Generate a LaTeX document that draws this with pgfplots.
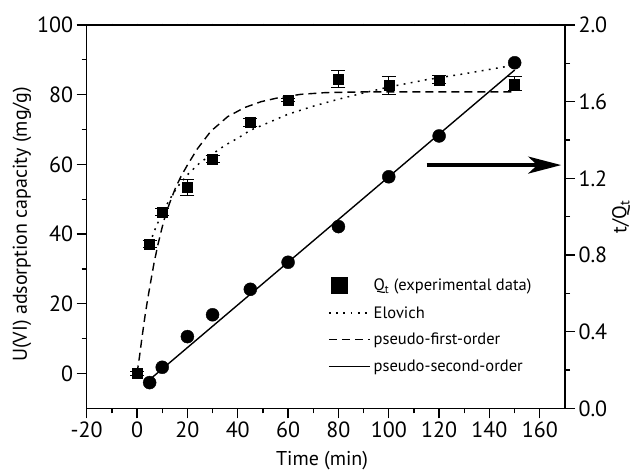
\documentclass[border=0pt]{standalone}
\usepackage{fontspec}
\setmainfont{PT Sans}
\usepackage{pgfplots}
\pgfplotsset{compat=1.18}
\usetikzlibrary{arrows.meta}

\pgfplotstableread{
t q e
0 0 0.6
5 37.1 1.0
10 46.3 1.0
20 53.4 2.3
30 61.5 1.0
45 72.1 1.2
60 78.5 0.5
80 84.4 2.4
100 82.6 2.5
120 84.3 1.2
150 83.1 2.0
}\qtdata

\pgfplotstableread{
t r
5 0.134
10 0.214
20 0.374
30 0.488
45 0.621
60 0.762
80 0.948
100 1.208
120 1.421
150 1.803
}\ratiodata

\begin{document}
\begin{tikzpicture}
\pgfplotsset{
  common/.style={
    scale only axis, width=478.3pt, height=383.3pt,
    xmin=-20, xmax=170,
    axis line style={line width=1.3pt},
    every tick/.style={line width=1.3pt, black},
    major tick length=10pt, minor tick length=5pt,
    tick align=outside,
    tick label style={font=\fontsize{22}{26}\selectfont},
    label style={font=\fontsize{20}{24}\selectfont},
    /pgf/number format/assume math mode=true,
    clip=false,
  },
  dottedline/.style={line width=1.5pt, dash pattern=on 1.8pt off 5.4pt},
  dashedline/.style={line width=1.4pt, dash pattern=on 8pt off 5pt},
  longline/.style={legend image code/.code={\draw[##1] (0pt,0pt) -- (41pt,0pt);}},
}
% left axis
\begin{axis}[common,
  ymin=-10, ymax=100,
  axis y line*=left, axis x line*=bottom,
  xtick={-20,0,...,160}, minor x tick num=1,
  ytick={0,20,...,100}, minor y tick num=1,
  xlabel={Time (min)}, ylabel={U(VI) adsorption capacity (mg/g)},
  xlabel style={at={(axis description cs:0.492,-0.1375)}, anchor=center},
  ylabel style={at={(axis description cs:-0.1353,0.48)}, anchor=center},
]
\addplot[dashedline] coordinates {
(0,0) (1,5) (2,10.5) (3.3,17.2) (4.5,22.5) (5.3,25.8) (6.7,31.5) (8.3,37)
(10,42) (11.3,45.5) (13,49) (15.3,53.3) (17.5,56.6) (20,59.8) (24,64.5)
(29.3,69.5) (36,73.7) (42.7,76.3) (49.3,78) (56,79.1) (65,80.1) (75,80.6)
(90,80.8) (110,80.8) (150,80.8)};
\addplot[dottedline] coordinates {
(5,37.3) (7.5,42) (10,46) (13,50) (16,53.5) (20,57) (25,60.5) (30,63)
(35,65.5) (40,67.5) (45,69.8) (50,71.3) (60,74.4) (70,76.7) (80,78.7)
(90,80.5) (100,82.2) (115,84.3) (130,86) (150,88.5)};
\addplot[only marks, mark=square*, mark size=5pt, black,
  error bars/.cd, y dir=both, y explicit,
  error bar style={line width=1pt, black},
  error mark options={rotate=90, mark size=7pt, line width=1pt, black}]
  table[x=t, y=q, y error=e] {\qtdata};
\draw[line width=3.6pt, -{Stealth[length=33pt, width=17pt, inset=9pt]}]
  (axis cs:115,59.8) -- (axis cs:168.5,59.8);
\end{axis}
% top ticks
\begin{axis}[common,
  ymin=0, ymax=1,
  axis x line*=top, axis y line=none,
  xtick={-10,0,...,160}, xticklabels={},
  major tick length=2.5pt, tick align=center,
]
\addplot[draw=none] coordinates {(0,0)};
\end{axis}
% right axis
\begin{axis}[common,
  ymin=0, ymax=2,
  axis y line*=right, axis x line=none,
  ytick={0,0.4,0.8,1.2,1.6,2.0}, minor y tick num=1,
  yticklabel style={/pgf/number format/.cd, fixed, fixed zerofill, precision=1},
  ylabel={t/Q\textsubscript{t}},
  ylabel style={at={(axis description cs:1.117,0.5)}, anchor=center},
  legend style={at={(0.5045,0.343)}, anchor=north west, draw=none, fill=none,
    font=\fontsize{16.5}{19}\selectfont, inner sep=0pt,
    nodes={inner sep=1pt},
    row sep=11.5pt, column sep=2pt},
  legend cell align=left,
]
\addlegendimage{legend image code/.code={\fill[black,draw=none] (2pt,-8.5pt) rectangle (19pt,8.5pt); \path[draw=none,fill=none] (0pt,0pt) -- (41pt,0pt);}}
\addlegendentry{Q\textsubscript{t} (experimental data)}
\addlegendimage{dottedline, longline}
\addlegendentry{Elovich}
\addlegendimage{dashedline, longline}
\addlegendentry{pseudo-first-order}
\addplot[only marks, mark=*, mark size=6.5pt, black, forget plot]
  table[x=t, y=r] {\ratiodata};
\addplot[line width=1.4pt, black, longline] coordinates {(4.5,0.144) (150,1.765)};
\addlegendentry{pseudo-second-order}
\end{axis}
\pgfresetboundingbox
\useasboundingbox (-86.7pt,-63.7pt) rectangle (548.3pt,408.3pt);
\end{tikzpicture}
\end{document}
